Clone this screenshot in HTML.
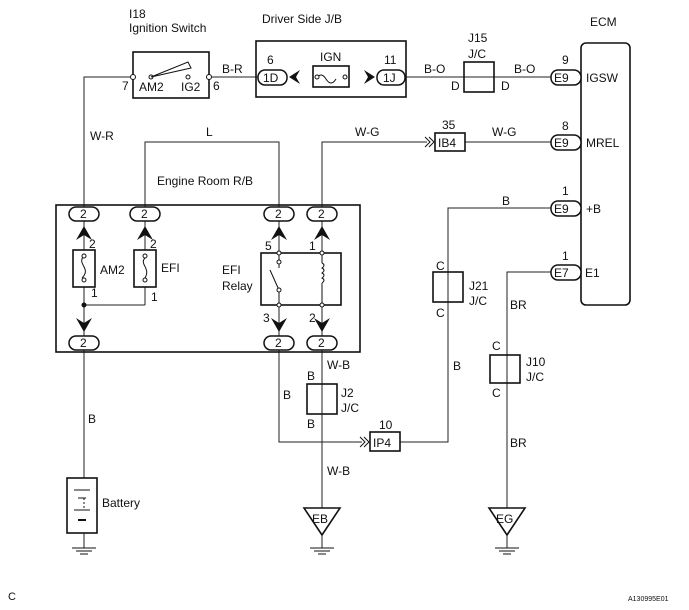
<!DOCTYPE html>
<html><head><style>
body{margin:0;background:#fff}
svg{display:block}
text{font-family:"Liberation Sans",Arial,sans-serif;font-size:12px;fill:#111}
.s{font-size:11px}
</style></head><body>
<svg width="689" height="610" viewBox="0 0 689 610" xmlns="http://www.w3.org/2000/svg">
<g fill="none" stroke="#222" stroke-width="1">
<polyline points="133,77 84,77 84,207"/>
<line x1="209" y1="77" x2="258" y2="77"/>
<line x1="406" y1="77" x2="551" y2="77"/>
<polyline points="145,207 145,142 279,142 279,207"/>
<polyline points="322,207 322,142 427,142"/>
<line x1="465" y1="142" x2="551" y2="142"/>
<line x1="84" y1="350" x2="84" y2="478"/>
<polyline points="279,350 279,442 362,442"/>
<polyline points="400,442 448,442 448,208 551,208"/>
<line x1="322" y1="350" x2="322" y2="508"/>
<polyline points="551,272 507,272 507,508"/>
<line x1="84" y1="533" x2="84" y2="548"/>
<line x1="322" y1="535" x2="322" y2="548"/>
<line x1="507" y1="535" x2="507" y2="548"/>
<line x1="84" y1="221" x2="84" y2="336"/>
<line x1="145" y1="221" x2="145" y2="305"/>
<polyline points="84,305 145,305"/>
<line x1="279" y1="221" x2="279" y2="336"/>
<line x1="322" y1="221" x2="322" y2="336"/>
</g>
<g fill="none" stroke="#111" stroke-width="1.6">
<rect x="133" y="52" width="76" height="46"/>
<rect x="256" y="41" width="150" height="56"/>
<rect x="313" y="66" width="36" height="21" fill="#fff"/>
<rect x="464" y="62" width="30" height="30"/>
<rect x="581" y="43" width="49" height="262" rx="5"/>
<rect x="435" y="133" width="30" height="18" fill="#fff"/>
<rect x="56" y="205" width="304" height="147"/>
<rect x="73" y="250" width="22" height="37" fill="#fff"/>
<rect x="134" y="250" width="22" height="37" fill="#fff"/>
<rect x="261" y="253" width="80" height="52" fill="#fff"/>
<rect x="433" y="272" width="30" height="30"/>
<rect x="307" y="384" width="30" height="30"/>
<rect x="490" y="355" width="30" height="28"/>
<rect x="370" y="432" width="30" height="19" fill="#fff"/>
<rect x="67" y="478" width="30" height="55" fill="#fff"/>
<polygon points="304,508 340,508 322,535" fill="#fff"/>
<polygon points="489,508 525,508 507,535" fill="#fff"/>
</g>
<g fill="#fff" stroke="#111" stroke-width="1">
<line x1="279" y1="253" x2="279" y2="268"/><line x1="279" y1="290" x2="279" y2="305"/>
<line x1="270" y1="270" x2="279" y2="290"/>
<line x1="322" y1="253" x2="322" y2="263"/><line x1="322" y1="283" x2="322" y2="305"/>
<path d="M322,263 q4,2 0,5 q4,2 0,5 q4,2 0,5 q4,2 0,5" fill="none"/>
<circle cx="279" cy="262" r="2"/><circle cx="279" cy="290" r="2"/>
<circle cx="279" cy="253" r="2"/><circle cx="279" cy="305" r="2"/>
<circle cx="322" cy="253" r="2"/><circle cx="322" cy="305" r="2"/>
<path d="M84,256 c-8,8 8,12 -2,22" fill="none"/>
<path d="M145,258 c-6,6 6,10 0,20" fill="none"/>
<circle cx="84" cy="256" r="2"/><circle cx="84" cy="280" r="2"/>
<circle cx="145" cy="256" r="2"/><circle cx="145" cy="280" r="2"/>
<circle cx="133" cy="77" r="2.5"/><circle cx="209" cy="77" r="2.5"/>
<circle cx="151" cy="77" r="2"/><circle cx="188" cy="77" r="2"/>
<path d="M316,79 q5,-8 10,0 q5,8 10,0" fill="none"/>
<circle cx="317" cy="77" r="2"/><circle cx="345" cy="77" r="2"/>
</g>
<polygon points="151,77 188,62 191,68" fill="none" stroke="#111"/>
<circle cx="84" cy="305" r="2.5" fill="#111"/>
<g fill="#fff" stroke="#111" stroke-width="1.5">
<rect x="69" y="207" width="30" height="14" rx="7"/>
<rect x="130" y="207" width="30" height="14" rx="7"/>
<rect x="264" y="207" width="30" height="14" rx="7"/>
<rect x="307" y="207" width="30" height="14" rx="7"/>
<rect x="69" y="336" width="30" height="14" rx="7"/>
<rect x="264" y="336" width="30" height="14" rx="7"/>
<rect x="307" y="336" width="30" height="14" rx="7"/>
<rect x="258" y="70" width="29" height="15" rx="7"/>
<rect x="377" y="70" width="28" height="15" rx="7"/>
<rect x="551" y="70" width="30" height="15" rx="7"/>
<rect x="551" y="135" width="30" height="15" rx="7"/>
<rect x="551" y="201" width="30" height="15" rx="7"/>
<rect x="551" y="265" width="30" height="15" rx="7"/>
</g>
<g fill="#111">
<polygon points="76,240 84,226 92,240 84,235"/>
<polygon points="137,240 145,226 153,240 145,235"/>
<polygon points="271,240 279,226 287,240 279,235"/>
<polygon points="314,240 322,226 330,240 322,235"/>
<polygon points="76,318 84,332 92,318 84,323"/>
<polygon points="271,318 279,332 287,318 279,323"/>
<polygon points="314,318 322,332 330,318 322,323"/>
<polygon points="300,70 289,77 300,84 296,77"/>
<polygon points="364,70 375,77 364,84 368,77"/>
</g>
<g fill="none" stroke="#111">
<polyline points="425,137 430,142 425,147"/><polyline points="429,137 434,142 429,147"/>
<polyline points="360,437 365,442 360,447"/><polyline points="364,437 369,442 364,447"/>
<line x1="74" y1="490" x2="90" y2="490"/><line x1="78" y1="498" x2="86" y2="498"/>
<line x1="74" y1="510" x2="90" y2="510"/><line x1="78" y1="520" x2="86" y2="520" stroke-width="2"/>
<line x1="84" y1="498" x2="84" y2="508" stroke-dasharray="2,2"/>
<line x1="72" y1="548" x2="96" y2="548"/><line x1="76" y1="551" x2="92" y2="551"/><line x1="80" y1="554" x2="88" y2="554"/>
<line x1="310" y1="548" x2="334" y2="548"/><line x1="314" y1="551" x2="330" y2="551"/><line x1="318" y1="554" x2="326" y2="554"/>
<line x1="495" y1="548" x2="519" y2="548"/><line x1="499" y1="551" x2="515" y2="551"/><line x1="503" y1="554" x2="511" y2="554"/>
</g>
<text x="129" y="18">I18</text><text x="129" y="32">Ignition Switch</text>
<text x="262" y="23">Driver Side J/B</text>
<text x="590" y="26">ECM</text>
<text x="122" y="90">7</text><text x="139" y="91">AM2</text><text x="181" y="91">IG2</text><text x="213" y="90">6</text>
<text x="222" y="73">B-R</text>
<text x="267" y="64">6</text><text x="263" y="82">1D</text>
<text x="320" y="61">IGN</text>
<text x="384" y="64">11</text><text x="383" y="82">1J</text>
<text x="424" y="73">B-O</text><text x="514" y="73">B-O</text>
<text x="468" y="42">J15</text><text x="468" y="58">J/C</text>
<text x="451" y="90">D</text><text x="501" y="90">D</text>
<text x="562" y="64">9</text><text x="554" y="82">E9</text><text x="586" y="82">IGSW</text>
<text x="562" y="130">8</text><text x="554" y="147">E9</text><text x="586" y="147">MREL</text>
<text x="562" y="195">1</text><text x="554" y="213">E9</text><text x="586" y="213">+B</text>
<text x="562" y="260">1</text><text x="554" y="277">E7</text><text x="585" y="277">E1</text>
<text x="442" y="129">35</text><text x="438" y="147">IB4</text>
<text x="355" y="136">W-G</text><text x="492" y="136">W-G</text>
<text x="90" y="140">W-R</text><text x="206" y="136">L</text>
<text x="157" y="185">Engine Room R/B</text>
<text x="80" y="218">2</text><text x="141" y="218">2</text><text x="275" y="218">2</text><text x="318" y="218">2</text>
<text x="80" y="347">2</text><text x="275" y="347">2</text><text x="318" y="347">2</text>
<text x="89" y="248">2</text><text x="150" y="248">2</text>
<text x="100" y="274">AM2</text><text x="161" y="272">EFI</text>
<text x="91" y="297">1</text><text x="151" y="301">1</text>
<text x="265" y="250">5</text><text x="309" y="250">1</text>
<text x="222" y="274">EFI</text><text x="222" y="290">Relay</text>
<text x="263" y="322">3</text><text x="309" y="322">2</text>
<text x="502" y="205">B</text>
<text x="436" y="270">C</text><text x="436" y="317">C</text>
<text x="469" y="290">J21</text><text x="469" y="305">J/C</text>
<text x="510" y="309">BR</text>
<text x="492" y="350">C</text><text x="492" y="397">C</text>
<text x="526" y="366">J10</text><text x="526" y="381">J/C</text>
<text x="453" y="370">B</text>
<text x="327" y="369">W-B</text>
<text x="307" y="380">B</text><text x="307" y="428">B</text>
<text x="341" y="397">J2</text><text x="341" y="412">J/C</text>
<text x="283" y="399">B</text>
<text x="379" y="429">10</text><text x="373" y="447">IP4</text>
<text x="510" y="447">BR</text>
<text x="88" y="423">B</text>
<text x="102" y="507">Battery</text>
<text x="327" y="475">W-B</text>
<text x="312" y="523">EB</text><text x="496" y="523">EG</text>
<text x="8" y="600" class="s">C</text>
<text x="628" y="601" style="font-size:7px">A130995E01</text>
</svg>
</body></html>
